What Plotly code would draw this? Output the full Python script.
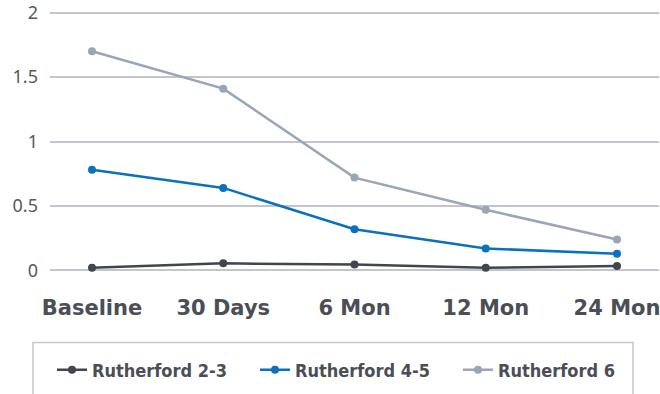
import plotly.graph_objects as go

# Follow-up time points
categories = ["Baseline", "30 Days", "6 Mon", "12 Mon", "24 Mon"]

# Mean values per Rutherford class
rutherford_2_3 = [0.02, 0.055, 0.045, 0.02, 0.035]
rutherford_4_5 = [0.78, 0.64, 0.32, 0.17, 0.13]
rutherford_6 = [1.70, 1.41, 0.72, 0.47, 0.24]

y_ticks = [0, 0.5, 1, 1.5, 2]
y_tick_text = ["0", "0.5", "1", "1.5", "2"]

series = [
    ("Rutherford 2-3", rutherford_2_3, "#41454e"),
    ("Rutherford 4-5", rutherford_4_5, "#0a72bd"),
    ("Rutherford 6", rutherford_6, "#97a6b9"),
]

# one legend box per series so each entry sits at a fixed spot
legend_ids = ["legend", "legend2", "legend3"]
legend_x_px = [52, 255, 458]

label_font = "DejaVu Sans, sans-serif"
legend_font = dict(family="DejaVu Sans Condensed, DejaVu Sans, sans-serif",
                   size=18, color="#4a4e56", weight="bold")

fig = go.Figure()
for (name, vals, color), lid in zip(series, legend_ids):
    fig.add_trace(go.Scatter(
        x=list(range(len(categories))), y=vals, name=name,
        mode="lines+markers",
        line=dict(color=color, width=2.5),
        marker=dict(color=color, size=8),
        cliponaxis=False,
        legend=lid,
    ))

legend_layout = {}
for lid, xpx in zip(legend_ids, legend_x_px):
    legend_layout[lid] = dict(
        orientation="h",
        xref="container", x=xpx / 660, xanchor="left",
        yref="container", y=(394 - 370) / 394, yanchor="middle",
        font=legend_font, itemwidth=30,
        bgcolor="rgba(0,0,0,0)", borderwidth=0,
    )

fig.update_layout(
    width=660, height=394,
    margin=dict(l=50, r=1, t=10, b=121, autoexpand=False),
    paper_bgcolor="white", plot_bgcolor="white",
    showlegend=True,
    **legend_layout,
    xaxis=dict(
        range=[-0.32, 4.32],
        tickmode="array", tickvals=list(range(len(categories))), ticktext=categories,
        showgrid=False, zeroline=False, showline=False, ticks="",
        tickfont=dict(family=label_font, size=21, color="#4a4e56", weight="bold"),
        ticklabelstandoff=20, ticklabeloverflow="allow",
    ),
    yaxis=dict(
        range=[-0.02, 2.02],
        tickmode="array", tickvals=y_ticks, ticktext=y_tick_text,
        showgrid=True, gridcolor="#c4c4cc", gridwidth=1.5,
        zeroline=False, showline=False, ticks="",
        tickfont=dict(family="Noto Sans, sans-serif", size=18, color="#555a60"),
        ticklabelstandoff=11, ticklabeloverflow="allow",
    ),
    shapes=[dict(
        type="rect", xref="paper", yref="paper",
        x0=(33 - 50) / 609, x1=(633 - 50) / 609,
        y0=(272.6 - 420) / 262.2, y1=(272.6 - 342) / 262.2,
        line=dict(color="#c8c8cc", width=1.5), fillcolor="rgba(0,0,0,0)",
    )],
)

fig.write_html("out.html")
